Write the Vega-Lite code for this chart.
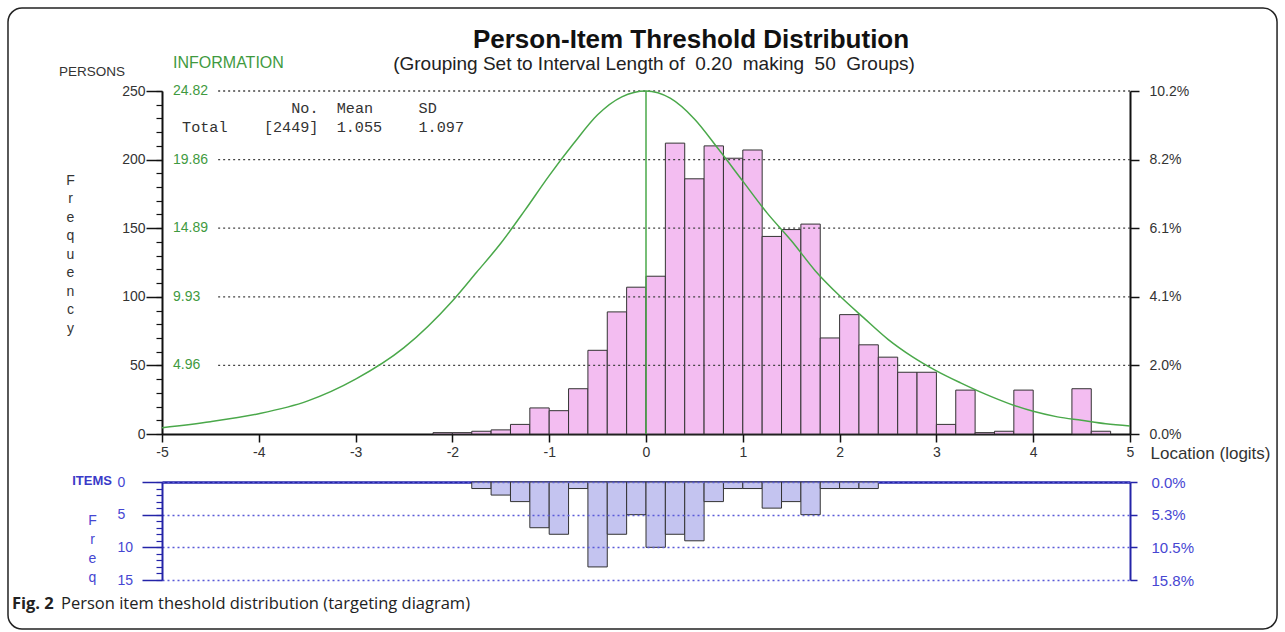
{
  "$schema": "https://vega.github.io/schema/vega-lite/v6.json",
  "background": "white",
  "padding": {"left": 7, "top": 7, "right": 1, "bottom": 1},
  "config": {
    "view": {"stroke": null},
    "font": "Liberation Sans",
    "axis": {"grid": false, "labelFont": "Liberation Sans", "titleFont": "Liberation Sans"}
  },
  "spacing": 48,
  "bounds": "flush",
  "vconcat": [
    {
      "width": 968,
      "height": 343,
      "resolve": {"scale": {"y": "independent"}, "axis": {"x": "independent", "y": "independent"}},
      "layer": [
        {
          "data": {"values": [{}]},
          "mark": {"type": "rect", "fill": "white", "fillOpacity": 0, "stroke": "#222", "strokeWidth": 1.5, "cornerRadius": 14},
          "encoding": {
            "x": {"datum": -6.591, "type": "quantitative", "scale": {"domain": [-5, 5], "nice": false, "zero": false}, "axis": null},
            "x2": {"datum": 6.519},
            "y": {"datum": 310.5, "type": "quantitative", "scale": {"domain": [0, 250], "nice": false}, "axis": null},
            "y2": {"datum": -142.1}
          }
        },
        {
          "data": {"values": [
            {"x0": -2.2, "x1": -2.0, "n": 1}, {"x0": -2.0, "x1": -1.8, "n": 1}, {"x0": -1.8, "x1": -1.6, "n": 2},
            {"x0": -1.6, "x1": -1.4, "n": 3}, {"x0": -1.4, "x1": -1.2, "n": 7}, {"x0": -1.2, "x1": -1.0, "n": 19},
            {"x0": -1.0, "x1": -0.8, "n": 17}, {"x0": -0.8, "x1": -0.6, "n": 33}, {"x0": -0.6, "x1": -0.4, "n": 61},
            {"x0": -0.4, "x1": -0.2, "n": 89}, {"x0": -0.2, "x1": 0.0, "n": 107}, {"x0": 0.0, "x1": 0.2, "n": 115},
            {"x0": 0.2, "x1": 0.4, "n": 212}, {"x0": 0.4, "x1": 0.6, "n": 186}, {"x0": 0.6, "x1": 0.8, "n": 210},
            {"x0": 0.8, "x1": 1.0, "n": 201}, {"x0": 1.0, "x1": 1.2, "n": 207}, {"x0": 1.2, "x1": 1.4, "n": 144},
            {"x0": 1.4, "x1": 1.6, "n": 149}, {"x0": 1.6, "x1": 1.8, "n": 153}, {"x0": 1.8, "x1": 2.0, "n": 70},
            {"x0": 2.0, "x1": 2.2, "n": 87}, {"x0": 2.2, "x1": 2.4, "n": 65}, {"x0": 2.4, "x1": 2.6, "n": 56},
            {"x0": 2.6, "x1": 2.8, "n": 45}, {"x0": 2.8, "x1": 3.0, "n": 45}, {"x0": 3.0, "x1": 3.2, "n": 7},
            {"x0": 3.2, "x1": 3.4, "n": 32}, {"x0": 3.4, "x1": 3.6, "n": 1}, {"x0": 3.6, "x1": 3.8, "n": 2},
            {"x0": 3.8, "x1": 4.0, "n": 32}, {"x0": 4.4, "x1": 4.6, "n": 33}, {"x0": 4.6, "x1": 4.8, "n": 2}
          ]},
          "mark": {"type": "rect", "fill": "#f3bdf1", "stroke": "#333", "strokeWidth": 1},
          "encoding": {
            "x": {"field": "x0", "type": "quantitative", "scale": {"domain": [-5, 5], "nice": false, "zero": false},
              "axis": {"orient": "bottom", "values": [-5, -4, -3, -2, -1, 0, 1, 2, 3, 4, 5], "labelExpr": "'' + datum.value",
                "tickSize": 8, "labelPadding": 3, "labelFontSize": 14, "labelColor": "#333", "labelFlush": false, "labelOverlap": false,
                "domainColor": "#111", "domainWidth": 2, "tickColor": "#111", "tickWidth": 1.5,
                "title": "Location (logits)", "titleX": 988, "titleY": 19, "titleAlign": "left", "titleBaseline": "middle",
                "titleFontSize": 17, "titleFontWeight": "normal", "titleColor": "#333"}},
            "x2": {"field": "x1"},
            "y": {"field": "n", "type": "quantitative", "scale": {"domain": [0, 250], "nice": false},
              "axis": {"orient": "left", "values": [0, 50, 100, 150, 200, 250], "tickSize": 16, "labelPadding": 1,
                "labelFontSize": 14, "labelColor": "#333", "domainColor": "#111", "domainWidth": 2, "tickColor": "#111", "tickWidth": 1.5,
                "title": ["F", "r", "e", "q", "u", "e", "n", "c", "y"], "titleAngle": 0, "titleX": -92, "titleY": 89,
                "titleAlign": "center", "titleBaseline": "middle", "titleLineHeight": 18.5, "titleFontSize": 14,
                "titleFontWeight": "normal", "titleColor": "#333"}},
            "y2": {"datum": 0}
          }
        },
        {
          "data": {"values": [{"g": 50}, {"g": 100}, {"g": 150}, {"g": 200}, {"g": 250}]},
          "mark": {"type": "rule", "stroke": "#444", "strokeDash": [2, 3], "strokeWidth": 1.3},
          "encoding": {
            "x": {"datum": -4.42, "type": "quantitative", "scale": {"domain": [-5, 5], "nice": false, "zero": false}, "axis": null},
            "x2": {"datum": 5},
            "y": {"field": "g", "type": "quantitative", "scale": {"domain": [0, 250], "nice": false},
              "axis": {"orient": "right", "values": [0, 50, 100, 150, 200, 250], "title": null,
                "labelExpr": "format(datum.value / 2449 * 100, '.1f') + '%'", "tickSize": 9, "labelPadding": 10,
                "labelFontSize": 14, "labelColor": "#333", "labelAlign": "left", "labelBaseline": "middle",
                "domainColor": "#111", "domainWidth": 2, "tickColor": "#111", "tickWidth": 1.5}}
          }
        },
        {
          "data": {"values": [{}]},
          "mark": {"type": "text", "text": "No.\u00a0\u00a0Mean\u00a0\u00a0\u00a0\u00a0\u00a0SD",
            "font": "Liberation Mono", "fontSize": 15.17, "align": "left", "baseline": "middle", "color": "#333"},
          "encoding": {
            "x": {"datum": -3.665, "type": "quantitative", "scale": {"domain": [-5, 5], "nice": false, "zero": false}, "axis": null},
            "y": {"datum": 237.6, "type": "quantitative", "scale": {"domain": [0, 250], "nice": false}, "axis": null}
          }
        },
        {
          "data": {"values": [{}]},
          "mark": {"type": "text", "text": "Total\u00a0\u00a0\u00a0\u00a0[2449]\u00a0\u00a01.055\u00a0\u00a0\u00a0\u00a01.097",
            "font": "Liberation Mono", "fontSize": 15.17, "align": "left", "baseline": "middle", "color": "#333"},
          "encoding": {
            "x": {"datum": -4.793, "type": "quantitative", "scale": {"domain": [-5, 5], "nice": false, "zero": false}, "axis": null},
            "y": {"datum": 223.4, "type": "quantitative", "scale": {"domain": [0, 250], "nice": false},
              "axis": {"orient": "left", "values": [0, 10, 20, 30, 40, 50, 60, 70, 80, 90, 100, 110, 120, 130, 140, 150, 160, 170, 180, 190, 200, 210, 220, 230, 240, 250],
                "tickSize": 6, "labels": false, "domain": false, "title": null, "tickColor": "#111", "tickWidth": 1.2}}
          }
        },
        {
          "data": {"values": [
            {"loc": -5, "info": 0.46}, {"loc": -4.5, "info": 0.89}, {"loc": -4, "info": 1.47}, {"loc": -3.5, "info": 2.38},
            {"loc": -3, "info": 3.97}, {"loc": -2.5, "info": 6.25}, {"loc": -2, "info": 9.63}, {"loc": -1.75, "info": 11.7},
            {"loc": -1.5, "info": 13.8}, {"loc": -1.25, "info": 16.2}, {"loc": -1, "info": 18.7}, {"loc": -0.75, "info": 21.0},
            {"loc": -0.5, "info": 23.1}, {"loc": -0.25, "info": 24.4}, {"loc": 0, "info": 24.82}, {"loc": 0.25, "info": 24.3},
            {"loc": 0.5, "info": 22.8}, {"loc": 0.75, "info": 20.6}, {"loc": 1, "info": 18.3}, {"loc": 1.25, "info": 16.0},
            {"loc": 1.5, "info": 14.0}, {"loc": 1.75, "info": 11.8}, {"loc": 2, "info": 10.0}, {"loc": 2.25, "info": 8.4},
            {"loc": 2.5, "info": 6.85}, {"loc": 2.75, "info": 5.6}, {"loc": 3, "info": 4.57}, {"loc": 3.25, "info": 3.7},
            {"loc": 3.5, "info": 2.9}, {"loc": 3.75, "info": 2.2}, {"loc": 4, "info": 1.64}, {"loc": 4.25, "info": 1.24},
            {"loc": 4.5, "info": 0.99}, {"loc": 4.75, "info": 0.74}, {"loc": 5, "info": 0.58}
          ]},
          "mark": {"type": "line", "color": "#4aa84a", "strokeWidth": 1.5, "interpolate": "monotone"},
          "encoding": {
            "x": {"field": "loc", "type": "quantitative", "scale": {"domain": [-5, 5], "nice": false, "zero": false}, "axis": null},
            "y": {"field": "info", "type": "quantitative", "scale": {"domain": [0, 24.82], "nice": false}, "axis": null}
          }
        },
        {
          "data": {"values": [{}]},
          "mark": {"type": "rule", "color": "#4aa84a", "strokeWidth": 1.5},
          "encoding": {
            "x": {"datum": 0, "type": "quantitative", "scale": {"domain": [-5, 5], "nice": false, "zero": false}, "axis": null},
            "y": {"datum": 0, "type": "quantitative", "scale": {"domain": [0, 250], "nice": false}, "axis": null},
            "y2": {"datum": 250}
          }
        },
        {
          "data": {"values": [{"v": 4.964, "lab": "4.96"}, {"v": 9.928, "lab": "9.93"}, {"v": 14.892, "lab": "14.89"}, {"v": 19.856, "lab": "19.86"}, {"v": 24.82, "lab": "24.82"}]},
          "mark": {"type": "text", "color": "#3f9a3f", "fontSize": 14, "align": "left", "baseline": "middle"},
          "encoding": {
            "x": {"datum": -4.886, "type": "quantitative", "scale": {"domain": [-5, 5], "nice": false, "zero": false}, "axis": null},
            "y": {"field": "v", "type": "quantitative", "scale": {"domain": [0, 24.82], "nice": false}, "axis": null},
            "text": {"field": "lab"}
          }
        },
        {
          "data": {"values": [{}]},
          "mark": {"type": "text", "text": "Person-Item Threshold Distribution", "fontSize": 26, "fontWeight": "bold", "color": "#111", "align": "center", "baseline": "middle"},
          "encoding": {
            "x": {"datum": 0.465, "type": "quantitative", "scale": {"domain": [-5, 5], "nice": false, "zero": false}, "axis": null},
            "y": {"datum": 287.2, "type": "quantitative", "scale": {"domain": [0, 250], "nice": false}, "axis": null}
          }
        },
        {
          "data": {"values": [{}]},
          "mark": {"type": "text", "text": "(Grouping Set to Interval Length of\u00a0 0.20\u00a0 making\u00a0 50\u00a0 Groups)", "fontSize": 19, "color": "#222", "align": "center", "baseline": "middle"},
          "encoding": {
            "x": {"datum": 0.083, "type": "quantitative", "scale": {"domain": [-5, 5], "nice": false, "zero": false}, "axis": null},
            "y": {"datum": 269.7, "type": "quantitative", "scale": {"domain": [0, 250], "nice": false}, "axis": null}
          }
        },
        {
          "data": {"values": [{}]},
          "mark": {"type": "text", "text": "PERSONS", "fontSize": 13.5, "color": "#333", "align": "right", "baseline": "middle"},
          "encoding": {
            "x": {"datum": -5.382, "type": "quantitative", "scale": {"domain": [-5, 5], "nice": false, "zero": false}, "axis": null},
            "y": {"datum": 263.8, "type": "quantitative", "scale": {"domain": [0, 250], "nice": false}, "axis": null}
          }
        },
        {
          "data": {"values": [{}]},
          "mark": {"type": "text", "text": "INFORMATION", "fontSize": 16, "color": "#3f9a3f", "align": "left", "baseline": "middle"},
          "encoding": {
            "x": {"datum": -4.886, "type": "quantitative", "scale": {"domain": [-5, 5], "nice": false, "zero": false}, "axis": null},
            "y": {"datum": 270.4, "type": "quantitative", "scale": {"domain": [0, 250], "nice": false}, "axis": null}
          }
        }
      ]
    },
    {
      "width": 968,
      "height": 98,
      "resolve": {"scale": {"y": "independent"}, "axis": {"x": "independent", "y": "independent"}},
      "layer": [
        {
          "data": {"values": [
            {"x0": -1.8, "x1": -1.6, "n": 1}, {"x0": -1.6, "x1": -1.4, "n": 2}, {"x0": -1.4, "x1": -1.2, "n": 3},
            {"x0": -1.2, "x1": -1.0, "n": 7}, {"x0": -1.0, "x1": -0.8, "n": 8}, {"x0": -0.8, "x1": -0.6, "n": 1},
            {"x0": -0.6, "x1": -0.4, "n": 13}, {"x0": -0.4, "x1": -0.2, "n": 8}, {"x0": -0.2, "x1": 0.0, "n": 5},
            {"x0": 0.0, "x1": 0.2, "n": 10}, {"x0": 0.2, "x1": 0.4, "n": 8}, {"x0": 0.4, "x1": 0.6, "n": 9},
            {"x0": 0.6, "x1": 0.8, "n": 3}, {"x0": 0.8, "x1": 1.0, "n": 1}, {"x0": 1.0, "x1": 1.2, "n": 1},
            {"x0": 1.2, "x1": 1.4, "n": 4}, {"x0": 1.4, "x1": 1.6, "n": 3}, {"x0": 1.6, "x1": 1.8, "n": 5},
            {"x0": 1.8, "x1": 2.0, "n": 1}, {"x0": 2.0, "x1": 2.2, "n": 1}, {"x0": 2.2, "x1": 2.4, "n": 1}
          ]},
          "mark": {"type": "rect", "fill": "#c4c4f0", "stroke": "#333", "strokeWidth": 1},
          "encoding": {
            "x": {"field": "x0", "type": "quantitative", "scale": {"domain": [-5, 5], "nice": false, "zero": false},
              "axis": {"orient": "top", "domain": true, "domainColor": "#2424a8", "domainWidth": 2.5, "ticks": false, "labels": false, "title": null}},
            "x2": {"field": "x1"},
            "y": {"field": "n", "type": "quantitative", "scale": {"domain": [0, 15], "reverse": true, "nice": false},
              "axis": {"orient": "left", "values": [0, 5, 10, 15], "tickSize": 20, "labelAlign": "left", "labelPadding": 25,
                "labelBaseline": "middle", "labelFontSize": 14, "labelColor": "#4646d2", "domainColor": "#2424a8", "domainWidth": 2,
                "tickColor": "#2424a8", "tickWidth": 1.5, "grid": true, "gridColor": "#5a5ad8", "gridDash": [2, 3], "gridWidth": 1.3, "zindex": 1,
                "title": ["F", "r", "e", "q"], "titleAngle": 0, "titleX": -70, "titleY": 38, "titleAlign": "center", "titleBaseline": "middle",
                "titleLineHeight": 19.3, "titleFontSize": 14, "titleFontWeight": "normal", "titleColor": "#4646d2"}},
            "y2": {"datum": 0}
          }
        },
        {
          "data": {"values": [{}]},
          "mark": {"type": "text", "text": "Fig. 2", "font": "Open Sans", "fontWeight": "bold", "fontSize": 16.5, "color": "#222", "align": "left", "baseline": "middle"},
          "encoding": {
            "x": {"datum": -6.55, "type": "quantitative", "scale": {"domain": [-5, 5], "nice": false, "zero": false}, "axis": null},
            "y": {"datum": 18.67, "type": "quantitative", "scale": {"domain": [0, 15], "reverse": true, "nice": false},
              "axis": {"orient": "left", "values": [0, 1, 2, 3, 4, 5, 6, 7, 8, 9, 10, 11, 12, 13, 14, 15], "tickSize": 6, "labels": false,
                "domain": false, "title": null, "tickColor": "#2424a8", "tickWidth": 1.2}}
          }
        },
        {
          "data": {"values": [{}]},
          "mark": {"type": "text", "text": "Person item theshold distribution (targeting diagram)", "font": "Open Sans", "fontSize": 16.5, "color": "#222", "align": "left", "baseline": "middle"},
          "encoding": {
            "x": {"datum": -6.043, "type": "quantitative", "scale": {"domain": [-5, 5], "nice": false, "zero": false}, "axis": null},
            "y": {"datum": 18.67, "type": "quantitative", "scale": {"domain": [0, 15], "reverse": true, "nice": false},
              "axis": {"orient": "right", "values": [0, 5, 10, 15], "title": null, "labelExpr": "format(datum.value / 95 * 100, '.1f') + '%'",
                "tickSize": 7, "labelPadding": 14, "labelAlign": "left", "labelBaseline": "middle", "labelFontSize": 15, "labelColor": "#4646d2",
                "domainColor": "#2424a8", "domainWidth": 2, "tickColor": "#2424a8", "tickWidth": 1.5}}
          }
        },
        {
          "data": {"values": [{}]},
          "mark": {"type": "text", "text": "ITEMS", "fontSize": 13, "fontWeight": "bold", "color": "#3a3ac8", "align": "right", "baseline": "middle"},
          "encoding": {
            "x": {"datum": -5.517, "type": "quantitative", "scale": {"domain": [-5, 5], "nice": false, "zero": false}, "axis": null},
            "y": {"datum": -0.15, "type": "quantitative", "scale": {"domain": [0, 15], "reverse": true, "nice": false}, "axis": null}
          }
        }
      ]
    }
  ]
}
